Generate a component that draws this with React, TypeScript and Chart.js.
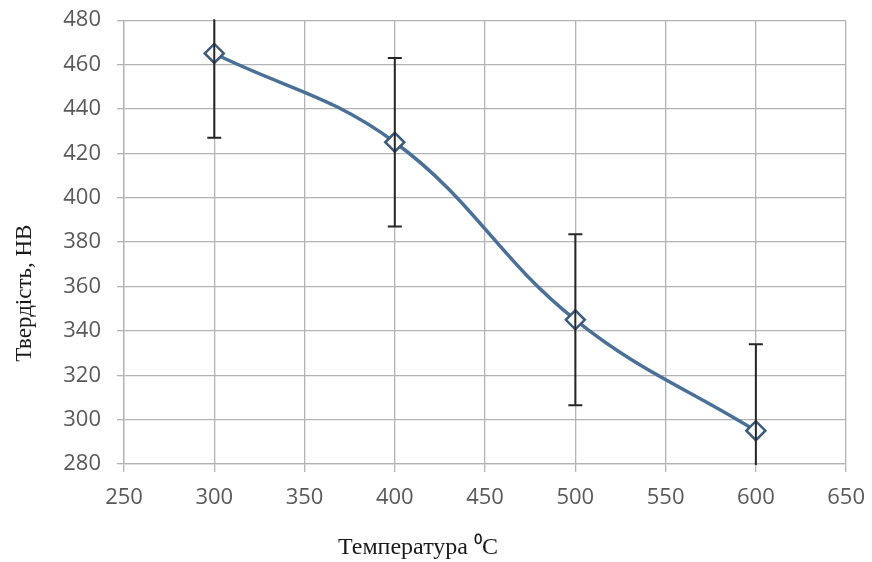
import React, { useEffect, useRef } from "react";
import { Chart, registerables } from "chart.js";

Chart.register(...registerables);

const temperatures = [300, 400, 500, 600];
const hardness = [465, 425, 345, 295];
const errors = [38, 38, 38.5, 39];

const xTicks = [250, 300, 350, 400, 450, 500, 550, 600, 650];
const yTicks = [280, 300, 320, 340, 360, 380, 400, 420, 440, 460, 480];

const xTitle = "Температура ⁰C";
const yTitle = "Твердість, НВ";

const errorBarPlugin = {
  id: "errorBars",
  afterDatasetsDraw(chart: any) {
    const { ctx, chartArea, scales } = chart;
    const xs = scales.x;
    const ys = scales.y;
    ctx.save();
    ctx.beginPath();
    ctx.rect(chartArea.left, chartArea.top - 1, chartArea.right - chartArea.left, chartArea.bottom - chartArea.top + 2);
    ctx.clip();
    ctx.strokeStyle = "#262626";
    ctx.lineWidth = 2;
    temperatures.forEach((t, i) => {
      const x = xs.getPixelForValue(t);
      const yHi = ys.getPixelForValue(hardness[i] + errors[i]);
      const yLo = ys.getPixelForValue(hardness[i] - errors[i]);
      ctx.beginPath();
      ctx.moveTo(x, yHi);
      ctx.lineTo(x, yLo);
      ctx.moveTo(x - 7, yHi);
      ctx.lineTo(x + 7, yHi);
      ctx.moveTo(x - 7, yLo);
      ctx.lineTo(x + 7, yLo);
      ctx.stroke();
    });
    ctx.restore();
  },
  afterDraw(chart: any) {
    const { ctx, chartArea } = chart;
    ctx.save();
    ctx.fillStyle = "#1a1a1a";
    ctx.textAlign = "center";
    ctx.textBaseline = "middle";
    ctx.font = "24px 'Liberation Serif', serif";
    ctx.fillText(xTitle, chartArea.left + 294, chartArea.bottom + 84);
    ctx.font = "23px 'Liberation Serif', serif";
    ctx.translate(25, chartArea.top + 273);
    ctx.rotate(-Math.PI / 2);
    ctx.fillText(yTitle, 0, 0);
    ctx.restore();
  },
};

export default function App() {
  const ref = useRef<HTMLCanvasElement>(null);
  useEffect(() => {
    document.body.style.margin = "0";
    const chart = new Chart(ref.current!, {
      type: "line",
      data: {
        datasets: [
          {
            data: temperatures.map((t, i) => ({ x: t, y: hardness[i] })),
            borderColor: "#4a7098",
            borderWidth: 3.5,
            tension: 0.4,
            pointStyle: "rectRot",
            pointRadius: 9.5,
            pointBackgroundColor: "#ffffff",
            pointBorderColor: "#3d5a7a",
            pointBorderWidth: 2.5,
            clip: false,
          },
        ],
      },
      options: {
        animation: false,
        responsive: false,
        layout: { padding: { top: 12, right: 23, left: 0, bottom: 0 } },
        plugins: { legend: { display: false }, tooltip: { enabled: false } },
        scales: {
          x: {
            type: "linear",
            min: 250,
            max: 650,
            afterBuildTicks: (s: any) => {
              s.ticks = xTicks.map((v) => ({ value: v }));
            },
            afterFit: (s: any) => {
              s.height = 98;
            },
            grid: { color: "#b3b3b3", lineWidth: 1.3, tickLength: 8 },
            border: { color: "#b3b3b3", width: 1.3 },
            ticks: {
              padding: 13,
              color: "#595959",
              font: { family: "'Open Sans', sans-serif", size: 22 },
            },
          },
          y: {
            type: "linear",
            min: 280,
            max: 480,
            afterBuildTicks: (s: any) => {
              s.ticks = yTicks.map((v) => ({ value: v }));
            },
            afterFit: (s: any) => {
              s.width = 124;
            },
            grid: { color: "#b3b3b3", lineWidth: 1.3, tickLength: 7 },
            border: { color: "#b3b3b3", width: 1.3 },
            ticks: {
              padding: 16,
              color: "#595959",
              font: { family: "'Open Sans', sans-serif", size: 22 },
            },
          },
        },
      },
      plugins: [errorBarPlugin],
    } as any);
    return () => chart.destroy();
  }, []);
  return (
    <div style={{ width: 872, height: 562, background: "#ffffff", overflow: "hidden", position: "relative" }}>
      <canvas
        ref={ref}
        width={878}
        height={571}
        style={{ position: "absolute", left: 0, top: -9, display: "block" }}
      />
    </div>
  );
}
